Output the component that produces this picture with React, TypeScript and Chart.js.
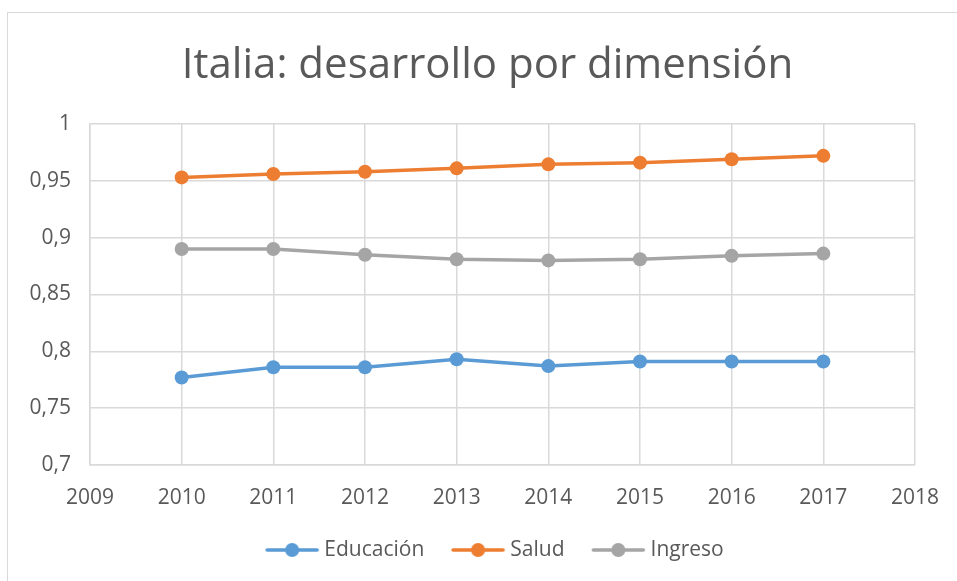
import React, { useEffect, useRef } from "react";
import { Chart, registerables } from "chart.js";

Chart.register(...registerables);

const years = [2010, 2011, 2012, 2013, 2014, 2015, 2016, 2017];
const educacion = [0.777, 0.786, 0.786, 0.793, 0.787, 0.791, 0.791, 0.791];
const salud = [0.953, 0.956, 0.958, 0.961, 0.9645, 0.966, 0.969, 0.972];
const ingreso = [0.89, 0.89, 0.885, 0.881, 0.88, 0.881, 0.884, 0.886];
const seriesNames = ["Educación", "Salud", "Ingreso"];
const seriesColors = ["#5B9BD5", "#ED7D31", "#A5A5A5"];
const title = "Italia: desarrollo por dimensión";

const FONT = "'Open Sans', sans-serif";
const TEXT = "#595959";
const GRID = "#D9D9D9";

// legend box width used by Chart.js; icon is drawn in an image centred on the box
const BOX_W = 48.5;
const ICON_W = 54;
function legendIcon(color: string): HTMLCanvasElement {
  const W = 2 * (ICON_W - BOX_W / 2);
  const off = W / 2 - BOX_W / 2;
  const c = document.createElement("canvas");
  c.width = Math.round(W);
  c.height = 16;
  const ctx = c.getContext("2d")!;
  ctx.strokeStyle = color;
  ctx.lineWidth = 3.5;
  ctx.lineCap = "round";
  ctx.beginPath();
  ctx.moveTo(off + 2, 8);
  ctx.lineTo(off + ICON_W - 2, 8);
  ctx.stroke();
  ctx.fillStyle = color;
  ctx.beginPath();
  ctx.arc(off + ICON_W / 2, 8, 7, 0, Math.PI * 2);
  ctx.fill();
  return c;
}

// re-centre the title and legend horizontally like the reference
const centerPlugin = {
  id: "recenter",
  afterLayout(chart: any) {
    if (chart.titleBlock) {
      chart.titleBlock.left = 55;
      chart.titleBlock.right = 910;
    }
    if (chart.legend) {
      chart.legend.left = 69;
      chart.legend.right = 910;
    }
  },
};

export default function App() {
  const ref = useRef<HTMLCanvasElement>(null);
  useEffect(() => {
    const data = [educacion, salud, ingreso];
    const chart = new Chart(ref.current!, {
      type: "line",
      plugins: [centerPlugin],
      data: {
        datasets: data.map((vals, i) => ({
          label: seriesNames[i],
          data: vals.map((v, j) => ({ x: years[j], y: v })),
          borderColor: seriesColors[i],
          backgroundColor: seriesColors[i],
          borderWidth: 3.5,
          pointRadius: 7,
          pointHoverRadius: 7,
          pointBorderWidth: 0,
          pointStyle: "circle",
          tension: 0,
        })),
      },
      options: {
        responsive: false,
        animation: false,
        layout: { padding: { left: 0, right: 36, top: 0, bottom: 22.5 } },
        plugins: {
          tooltip: { enabled: false },
          title: {
            display: true,
            text: title,
            color: TEXT,
            font: { family: FONT, size: 42, weight: "normal" as any },
            padding: { top: 28, bottom: 32.6 },
          },
          legend: {
            display: true,
            position: "bottom",
            labels: {
              color: TEXT,
              font: { family: FONT, size: 21 },
              usePointStyle: true,
              pointStyleWidth: BOX_W,
              padding: 27,
              generateLabels: (ch: any) =>
                ch.data.datasets.map((d: any, i: number) => ({
                  text: d.label,
                  fillStyle: seriesColors[i],
                  strokeStyle: seriesColors[i],
                  lineWidth: 0,
                  pointStyle: legendIcon(seriesColors[i]),
                  hidden: false,
                  datasetIndex: i,
                  fontColor: TEXT,
                })),
            },
          },
        },
        scales: {
          x: {
            type: "linear",
            min: 2009,
            max: 2018,
            ticks: {
              stepSize: 1,
              color: TEXT,
              font: { family: FONT, size: 21 },
              padding: 20.4,
              maxRotation: 0,
              callback: (v: any) => String(v),
            },
            grid: { color: GRID, lineWidth: 1.5, drawTicks: false },
            border: { color: GRID, width: 1.5 },
            afterFit: (s: any) => {
              s.height = 47.5;
              s.paddingLeft = 0;
              s.paddingRight = 0;
            },
          },
          y: {
            min: 0.7,
            max: 1,
            ticks: {
              stepSize: 0.05,
              color: TEXT,
              font: { family: FONT, size: 21 },
              padding: 19,
              callback: (v: any) => String(Math.round(v * 100) / 100).replace(".", ","),
            },
            grid: { color: GRID, lineWidth: 1.5, drawTicks: false },
            border: { color: GRID, width: 1.5 },
            afterFit: (s: any) => {
              s.width = 85;
            },
          },
        },
      },
    });
    return () => chart.destroy();
  }, []);
  return (
    <div
      style={{
        position: "absolute",
        left: 0,
        top: 0,
        width: 957,
        height: 581,
        overflow: "hidden",
        background: "#fff",
      }}
    >
      <div
        style={{
          position: "absolute",
          left: 7,
          top: 12,
          right: 0,
          bottom: 0,
          borderLeft: "1.5px solid #D9D9D9",
          borderTop: "1.5px solid #D9D9D9",
        }}
      />
      <canvas
        ref={ref}
        width={946}
        height={580}
        style={{ display: "block", position: "absolute", left: 5, top: 13 }}
      />
    </div>
  );
}
